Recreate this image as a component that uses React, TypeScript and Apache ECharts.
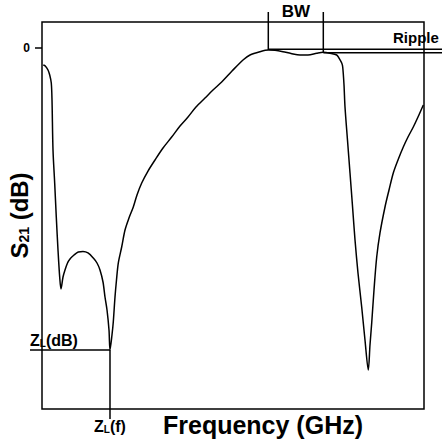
import React, { useEffect, useRef } from "react";
import * as echarts from "echarts";

// Frequency (arbitrary units, 0..100) and S21 (dB)
const freq = [
  0.34, 0.86, 1.57, 2.02, 2.43, 2.62, 2.88, 3.32, 3.74, 4.19, 4.63, 4.97,
  5.5, 6.02, 6.68, 7.33, 8.38, 9.5, 10.73, 12.04, 13.43, 14.4, 15.18, 15.97,
  16.49, 17.02, 17.54, 17.8, 18.32, 18.66, 19.11, 19.5, 19.97, 20.86, 21.73,
  22.77, 23.9, 24.87, 26.1, 27.75, 29.58, 31.68, 33.95, 36.13, 38.22, 40.31,
  42.67, 44.76, 47.04, 49.74, 52.62, 54.45, 57.07, 59.24, 60.99, 63.09, 65.18,
  67.54, 69.63, 71.91, 73.64, 75.39, 77.15, 77.75, 78.46, 78.72, 79.06, 79.32,
  79.97, 80.63, 81.28, 81.94, 82.72, 83.69, 84.55, 85.42, 85.86, 86.31, 86.91,
  87.62, 88.48, 89.79, 90.84, 91.96, 93.19, 94.58, 95.81, 97.2, 98.43, 99.82,
];
const s21 = [
  -2.35, -2.49, -3.05, -3.74, -4.85, -7.2, -14.13, -18.7, -23.41, -27.98,
  -31.72, -33.38, -31.72, -30.75, -29.78, -29.22, -28.67, -28.25, -28.19,
  -28.39, -29.09, -29.78, -30.75, -32.41, -34.49, -36.29, -39.06, -41.83,
  -39.75, -37.95, -34.49, -32.13, -29.78, -27.56, -25.21, -23.55, -22.02,
  -20.36, -18.7, -17.04, -15.51, -13.85, -12.33, -10.8, -9.56, -8.17, -6.93,
  -5.82, -4.71, -3.19, -1.66, -0.97, -0.51, -0.28, -0.32, -0.51, -0.76, -0.97,
  -0.97, -0.73, -0.6, -0.73, -0.97, -1.39, -2.08, -2.63, -5.12, -8.17, -12.74,
  -17.31, -21.88, -26.59, -31.16, -35.87, -40.44, -44.6, -41.14, -38.09,
  -33.52, -28.95, -25.62, -22.02, -19.67, -17.31, -15.51, -13.71, -12.33,
  -10.94, -9.56, -7.89,
];
const yTicks = [0];
// annotation values
const peakF = 59.24;
const bwEndF = 73.64;
const peakDB = -0.28;
const bwEndDB = -0.6;
const rippleTopDB = -0.18;
const rippleBottomDB = -0.65;
const zlF = 17.8;
const zlDB = -41.83;

const FONT = '"Liberation Sans", Arial, Helvetica, sans-serif';

export default function App() {
  const ref = useRef<HTMLDivElement>(null);
  useEffect(() => {
    if (!ref.current) return;
    const chart = echarts.init(ref.current, undefined, { renderer: "svg" });
    const W = 442;
    const H = 443;
    const gridLeft = 42;
    const gridTop = 22;
    const gridRight = 18;
    const gridBottom = 34;
    chart.setOption({
      animation: false,
      backgroundColor: "#ffffff",
      grid: {
        left: gridLeft,
        top: gridTop,
        right: gridRight,
        bottom: gridBottom,
        containLabel: false,
        outerBoundsMode: "none",
        show: true,
        borderColor: "#000",
        borderWidth: 1.5,
        backgroundColor: "transparent",
      },
      xAxis: {
        type: "value",
        min: 0,
        max: 100,
        axisLine: { show: false },
        axisTick: { show: false },
        axisLabel: { show: false },
        splitLine: { show: false },
        name: "Frequency (GHz)",
        nameLocation: "middle",
        nameGap: 3,
        nameMoveOverlap: false,
        nameTextStyle: {
          fontFamily: FONT,
          fontWeight: "bold",
          fontSize: 25,
          color: "#000",
          padding: [0, 0, 0, 60],
        },
      },
      yAxis: {
        type: "value",
        min: -50,
        max: 3.6,
        axisLine: { show: false },
        axisTick: {
          show: true,
          inside: false,
          length: 7,
          customValues: yTicks,
          lineStyle: { color: "#000", width: 1.5 },
        },
        axisLabel: {
          show: true,
          customValues: yTicks,
          margin: 12,
          color: "#000",
          fontFamily: FONT,
          fontWeight: "bold",
          fontSize: 12,
        },
        splitLine: { show: false },
        name: "{a|S}{b|21}{a| (dB)}",
        nameLocation: "middle",
        nameRotate: 90,
        nameGap: 11,
        nameMoveOverlap: false,
        nameTextStyle: {
          rich: {
            a: { fontFamily: FONT, fontWeight: "bold", fontSize: 24, color: "#000" },
            b: {
              fontFamily: FONT,
              fontWeight: "bold",
              fontSize: 14,
              color: "#000",
              verticalAlign: "top",
              padding: [10, 0, 0, 0],
            },
          },
        },
      },
      series: [
        {
          type: "line",
          data: freq.map((f, i) => [f, s21[i]]),
          showSymbol: false,
          smooth: 0.3,
          lineStyle: { color: "#000", width: 1.5 },
        },
      ],
    });

    const p = (f: number, db: number) => chart.convertToPixel({ gridIndex: 0 }, [f, db]) as number[];
    const pk = p(peakF, peakDB);
    const be = p(bwEndF, bwEndDB);
    const rt = p(peakF, rippleTopDB);
    const rb = p(bwEndF, rippleBottomDB);
    const zl = p(zlF, zlDB);
    const bottomY = H - gridBottom;
    const ls = { stroke: "#000", lineWidth: 1.5 };
    const txt = (size: number) => ({ fontFamily: FONT, fontWeight: "bold", fontSize: size, fill: "#000" });
    const sub = { ...txt(10), verticalAlign: "top", padding: [7, 0, 0, 0] };

    chart.setOption({
      graphic: [
        { type: "line", shape: { x1: pk[0], y1: gridTop - 10, x2: pk[0], y2: pk[1] }, style: ls },
        { type: "line", shape: { x1: be[0], y1: gridTop - 10, x2: be[0], y2: be[1] }, style: ls },
        {
          type: "text",
          x: (pk[0] + be[0]) / 2,
          y: 20,
          style: { ...txt(17), text: "BW", align: "center", verticalAlign: "bottom" },
        },
        { type: "line", shape: { x1: rt[0], y1: rt[1], x2: W, y2: rt[1] }, style: ls },
        { type: "line", shape: { x1: rb[0], y1: rb[1], x2: W, y2: rb[1] }, style: ls },
        {
          type: "text",
          x: 393,
          y: 37,
          style: { ...txt(15), text: "Ripple", align: "left", verticalAlign: "middle" },
        },
        { type: "line", shape: { x1: gridLeft - 12, y1: zl[1], x2: zl[0], y2: zl[1] }, style: ls },
        { type: "line", shape: { x1: zl[0], y1: zl[1], x2: zl[0], y2: bottomY + 10 }, style: ls },
        {
          type: "text",
          x: gridLeft - 12,
          y: zl[1] - 10,
          style: {
            text: "{a|Z}{b|L}{a|(dB)}",
            align: "left",
            verticalAlign: "middle",
            rich: { a: txt(16), b: sub },
          },
        },
        {
          type: "text",
          x: zl[0],
          y: bottomY + 17,
          style: {
            text: "{a|Z}{b|L}{a|(f)}",
            align: "center",
            verticalAlign: "middle",
            rich: { a: txt(16), b: sub },
          },
        },
      ],
    });
    return () => chart.dispose();
  }, []);
  return (
    <div
      ref={ref}
      style={{ position: "fixed", left: 0, top: 0, width: 442, height: 443, background: "#fff" }}
    />
  );
}
